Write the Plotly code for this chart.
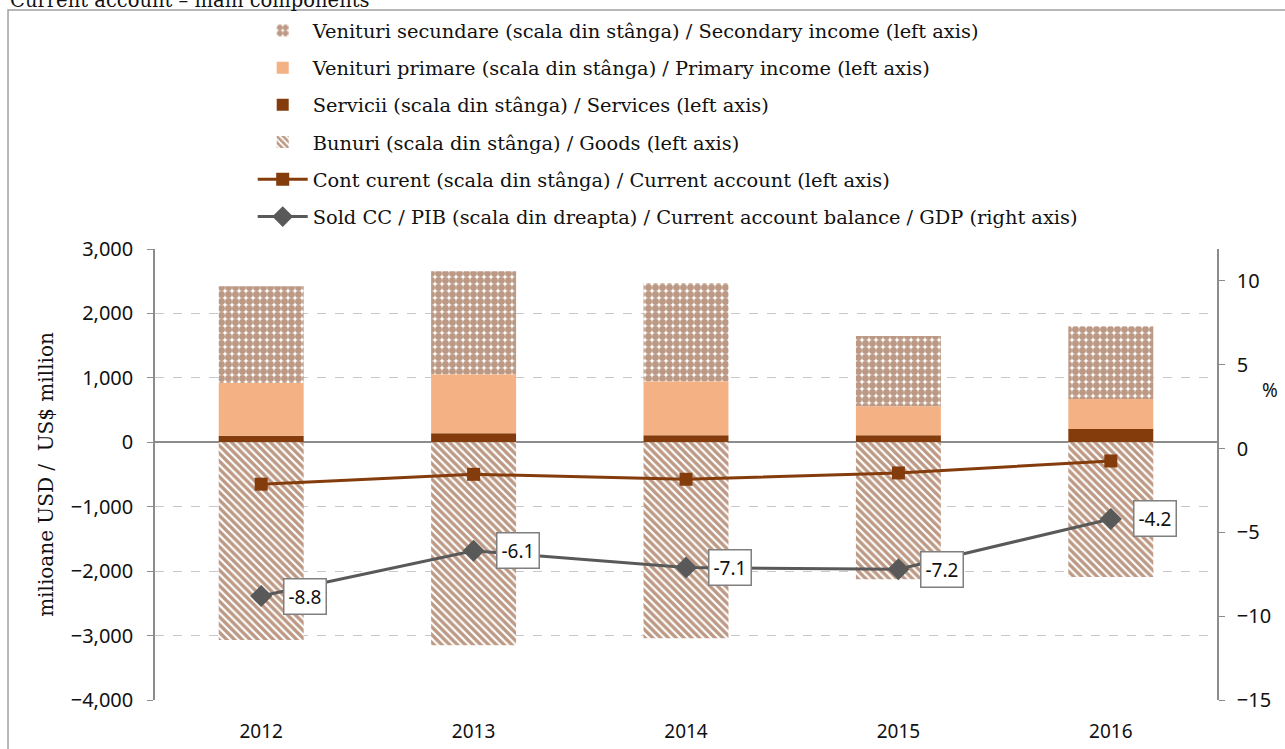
import plotly.graph_objects as go

years = ["2012", "2013", "2014", "2015", "2016"]
secondary_income = [1500, 1600, 1520, 1090, 1130]
primary_income = [820, 915, 838, 450, 464]
services = [100, 140, 110, 110, 206]
goods = [-3070, -3150, -3042, -2126, -2090]
current_account = [-650, -497, -574, -476, -290]
ca_gdp = [-8.8, -6.1, -7.1, -7.2, -4.2]

names = {
    "sec": "Venituri secundare (scala din stânga) / Secondary income (left axis)",
    "prim": "Venituri primare (scala din stânga) / Primary income (left axis)",
    "serv": "Servicii (scala din stânga) / Services (left axis)",
    "goods": "Bunuri (scala din stânga) / Goods (left axis)",
    "ca": "Cont curent (scala din stânga) / Current account (left axis)",
    "gdp": "Sold CC / PIB (scala din dreapta) / Current account balance / GDP (right axis)",
}

BROWN = "#843C0C"
PAT = "#7A3309"
PEACH = "#F4B183"
GREY = "#595959"
AX = "#8C8C8C"

SERIF = "DejaVu Serif"
SANS = "Noto Sans"

fig = go.Figure()
fig.add_trace(go.Bar(x=years, y=services, name=names["serv"], legendrank=3, legendgroup="c",
                     marker=dict(color=BROWN, line=dict(width=0)), width=0.4))
fig.add_trace(go.Bar(x=years, y=primary_income, name=names["prim"], legendrank=2, legendgroup="b",
                     marker=dict(color=PEACH, line=dict(width=0)), width=0.4))
fig.add_trace(go.Bar(x=years, y=secondary_income, name=names["sec"], legendrank=1, legendgroup="a",
                     marker=dict(color="white", line=dict(width=0),
                                 pattern=dict(shape=".", fgcolor=PAT, bgcolor="white",
                                              size=7, solidity=0.75, fillmode="overlay")),
                     width=0.4))
fig.add_trace(go.Bar(x=years, y=goods, name=names["goods"], legendrank=4, legendgroup="d",
                     marker=dict(color="white", line=dict(width=0),
                                 pattern=dict(shape="\\", fgcolor=PAT, bgcolor="white",
                                              size=5.5, solidity=0.6, fillmode="overlay")),
                     width=0.4))
fig.add_trace(go.Scatter(x=years, y=current_account, name=names["ca"], legendrank=5, legendgroup="e",
                         mode="lines+markers", line=dict(color=BROWN, width=3),
                         marker=dict(symbol="square", size=13, color=BROWN)))
fig.add_trace(go.Scatter(x=years, y=ca_gdp, name=names["gdp"], legendrank=6, legendgroup="f",
                         yaxis="y2", mode="lines+markers", line=dict(color=GREY, width=3),
                         marker=dict(symbol="diamond", size=17, color=GREY)))

for i, v in enumerate(ca_gdp):
    fig.add_annotation(x=i, y=v, xref="x", yref="y2", text=f"{v:.1f}", showarrow=False,
                       xshift=44, font=dict(family=SANS, size=19, color="#111111"),
                       bgcolor="white", bordercolor="#7F7F7F", borderwidth=1.5, borderpad=4)

# percent axis label
fig.add_annotation(x=1.059, y=0.72, xref="paper", yref="paper", text="%", showarrow=False,
                   font=dict(family=SANS, size=19, color="#111111"))
# clipped title
fig.add_annotation(x=-0.138, y=1.5213, xref="paper", yref="paper", xanchor="left", yanchor="bottom",
                   text="Current account – main components", showarrow=False,
                   font=dict(family=SERIF, size=19.5, color="#111111"))
# outer border
fig.add_shape(type="rect", xref="paper", yref="paper", x0=-0.1384, x1=1.08, y0=-0.2, y1=1.530,
              line=dict(color="#A0A0A0", width=1.5), fillcolor="rgba(0,0,0,0)", layer="below")

fig.update_layout(
    width=1285, height=749,
    margin=dict(l=155, r=68, t=249, b=49, autoexpand=False),
    paper_bgcolor="white", plot_bgcolor="white",
    barmode="relative", bargap=0.6,
    showlegend=True,
    legend=dict(x=0.092, y=1.527, xanchor="left", yanchor="top", orientation="v",
                font=dict(family=SERIF, size=19.4, color="#111111"),
                itemwidth=50, tracegroupgap=9, traceorder="grouped",
                bgcolor="rgba(0,0,0,0)"),
    xaxis=dict(type="category", range=[-0.5, 4.5], showgrid=False, showline=False, ticks="",
               automargin=False,
               tickfont=dict(family=SANS, size=19, color="#111111"), ticklabelstandoff=18),
    yaxis=dict(range=[-4000, 3000], tickvals=[-4000, -3000, -2000, -1000, 0, 1000, 2000, 3000],
               tickformat=",", showgrid=True, gridcolor="#C8C8C8", griddash="dash", gridwidth=1,
               zeroline=True, zerolinecolor=AX, zerolinewidth=1.5, automargin=False,
               showline=True, linecolor=AX, linewidth=1.5, ticks="outside", ticklen=6, tickcolor=AX,
               ticklabelstandoff=10,
               tickfont=dict(family=SANS, size=20, color="#111111"),
               title=dict(text="milioane USD /  US$ million", font=dict(family=SERIF, size=20, color="#111111"),
                          standoff=12)),
    yaxis2=dict(overlaying="y", side="right", range=[-15, 11.9], tickvals=[-15, -10, -5, 0, 5, 10],
                showgrid=False, zeroline=False, showline=True, linecolor=AX, linewidth=1.5,
                ticks="outside", ticklen=6, tickcolor=AX, automargin=False, ticklabelstandoff=8,
                tickfont=dict(family=SANS, size=20, color="#111111")),
)

fig.write_html("out.html", config={"displayModeBar": False},
               post_script="document.body.style.margin='0px';document.body.style.padding='0px';")
